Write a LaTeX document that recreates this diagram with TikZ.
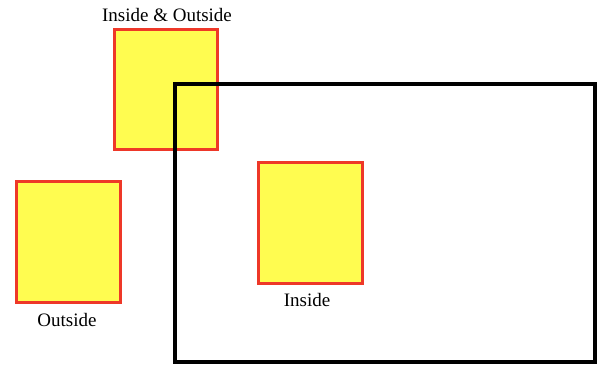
\documentclass[tikz,border=0pt]{standalone}
\usepackage{fontspec}
\setmainfont{Liberation Serif}
\definecolor{boxfill}{RGB}{255,252,80}
\definecolor{boxline}{RGB}{238,56,40}
\begin{document}
\begin{tikzpicture}[x=1pt,y=-1pt,
  ybox/.style={draw=boxline,fill=boxfill,line width=3pt},
  frame/.style={draw=black,line width=4pt},
  lbl/.style={font=\fontsize{19}{22}\selectfont,inner sep=0pt,anchor=center}]
\useasboundingbox (0,0) rectangle (600,366);
\fill[white] (0,0) rectangle (600,366);
\draw[ybox] (114,30) rectangle (217,150);
\draw[ybox] (16,182) rectangle (120,302);
\draw[ybox] (258,163) rectangle (362,284);
\draw[frame] (175,84) rectangle (595,362);
\node[lbl] (l1) at (167,15) {Inside \& Outside};
\node[lbl] (l2) at (67,320) {Outside};
\node[lbl] (l3) at (307,300) {Inside};
\end{tikzpicture}
\end{document}
